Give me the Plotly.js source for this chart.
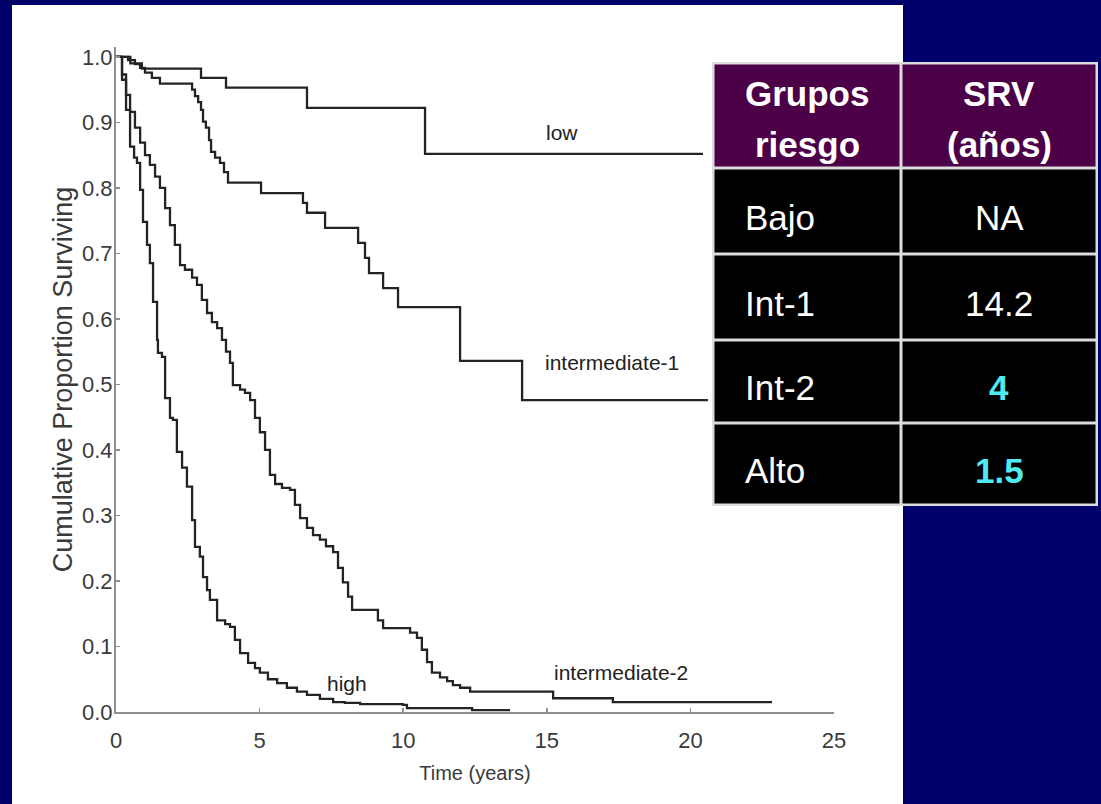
<!DOCTYPE html>
<html><head><meta charset="utf-8">
<script src="https://cdn.plot.ly/plotly-3.0.1.min.js"></script>
<style>html,body{margin:0;padding:0;background:#00006a;overflow:hidden}#chart{width:1101px;height:804px;}</style>
</head><body><div id="chart"></div>
<script>
// ---------- data ----------
const lowTime = [0, 0.5, 0.9, 2.96, 3.83, 6.65, 10.76, 20.44];
const lowSurv = [1.0, 0.99, 0.982, 0.968, 0.953, 0.922, 0.852, 0.852];

const int1Time = [0, 0.42, 0.66, 0.84, 1.01, 1.25, 1.53, 2.65, 2.75, 2.86, 2.96, 3.03, 3.13, 3.24, 3.31, 3.45, 3.62, 3.76, 3.90, 5.05, 6.51, 6.65, 7.28, 8.43, 8.67, 8.81, 9.30, 9.82, 11.98, 14.14, 20.61];
const int1Surv = [1.0, 0.995, 0.989, 0.983, 0.976, 0.968, 0.959, 0.950, 0.940, 0.931, 0.919, 0.901, 0.892, 0.873, 0.855, 0.846, 0.838, 0.824, 0.808, 0.792, 0.777, 0.762, 0.739, 0.716, 0.693, 0.670, 0.647, 0.618, 0.536, 0.476, 0.476];

const int2Time = [0, 0.21, 0.35, 0.49, 0.66, 0.84, 1.01, 1.18, 1.36, 1.53, 1.71, 1.88, 2.05, 2.23, 2.40, 2.65, 2.82, 2.99, 3.17, 3.34, 3.52, 3.69, 3.83, 3.97, 4.07, 4.32, 4.49, 4.67, 4.84, 5.01, 5.19, 5.36, 5.54, 5.78, 6.06, 6.23, 6.41, 6.65, 6.86, 7.10, 7.31, 7.56, 7.73, 7.90, 8.08, 8.22, 9.12, 9.30, 10.24, 10.48, 10.65, 10.83, 11.00, 11.28, 11.53, 11.73, 11.98, 12.33, 15.22, 17.30, 22.84];
const int2Surv = [1.0, 0.973, 0.942, 0.916, 0.892, 0.869, 0.850, 0.835, 0.817, 0.800, 0.769, 0.743, 0.713, 0.682, 0.675, 0.663, 0.652, 0.629, 0.609, 0.595, 0.586, 0.568, 0.550, 0.533, 0.499, 0.492, 0.487, 0.476, 0.449, 0.427, 0.400, 0.362, 0.348, 0.342, 0.339, 0.316, 0.296, 0.281, 0.270, 0.263, 0.253, 0.244, 0.220, 0.198, 0.176, 0.156, 0.140, 0.128, 0.121, 0.113, 0.095, 0.076, 0.060, 0.053, 0.047, 0.041, 0.037, 0.031, 0.021, 0.015, 0.015];

const highTime = [0, 0.21, 0.35, 0.49, 0.63, 0.73, 0.84, 0.94, 1.08, 1.18, 1.29, 1.43, 1.46, 1.60, 1.71, 1.88, 1.98, 2.12, 2.30, 2.47, 2.65, 2.75, 2.92, 3.03, 3.17, 3.27, 3.52, 3.80, 3.97, 4.14, 4.32, 4.60, 4.84, 5.01, 5.29, 5.61, 5.95, 6.30, 6.65, 7.10, 7.56, 7.97, 8.50, 9.99, 10.13, 12.40, 13.72];
const highSurv = [1.0, 0.965, 0.919, 0.863, 0.846, 0.838, 0.797, 0.748, 0.713, 0.685, 0.626, 0.568, 0.548, 0.542, 0.479, 0.449, 0.446, 0.397, 0.373, 0.344, 0.293, 0.252, 0.237, 0.206, 0.186, 0.171, 0.140, 0.134, 0.130, 0.110, 0.090, 0.075, 0.067, 0.060, 0.050, 0.044, 0.037, 0.031, 0.026, 0.020, 0.015, 0.014, 0.012, 0.011, 0.006, 0.003, 0.003];

const curveNames = ['low', 'intermediate-1', 'intermediate-2', 'high'];
const labelTime = [15.53, 17.27, 17.6, 8.04];
const labelSurv = [0.884, 0.533, 0.061, 0.044];

const xTicks = [0, 5, 10, 15, 20, 25];
const yTicks = [0, 0.1, 0.2, 0.3, 0.4, 0.5, 0.6, 0.7, 0.8, 0.9, 1.0];
const yTickLabels = ['0.0','0.1','0.2','0.3','0.4','0.5','0.6','0.7','0.8','0.9','1.0'];
const xTitle = 'Time (years)';
const yTitle = 'Cumulative Proportion Surviving';

// table
const tableHeader = [['Grupos', 'riesgo'], ['SRV', '(años)']];
const riskGroups = ['Bajo', 'Int-1', 'Int-2', 'Alto'];
const srvYears = ['NA', '14.2', '4', '1.5'];
const srvHighlight = [false, false, true, true];

// ---------- layout helpers ----------
const L = 116, R = 834, T = 47, B = 712;
const px2x = p => (p - L) / (R - L);
const py2y = p => (B - p) / (B - T);
const FONT = 'Liberation Sans, Arial, sans-serif';
const curveColor = '#232323';
const axisGrey = '#8f8f8f';
const textGrey = '#3a3a3a';

function km(name, t, s) {
  return {type: 'scatter', mode: 'lines', name: name, x: t, y: s,
          line: {shape: 'hv', color: curveColor, width: 2.3}, showlegend: false};
}
const traces = [
  km(curveNames[0], lowTime, lowSurv),
  km(curveNames[1], int1Time, int1Surv),
  km(curveNames[2], int2Time, int2Surv),
  km(curveNames[3], highTime, highSurv)
];

const shapes = [];
const annotations = [];

// white slide panel
shapes.push({type: 'rect', xref: 'paper', yref: 'paper', layer: 'below',
  x0: px2x(12), x1: px2x(903), y0: py2y(806), y1: py2y(5),
  fillcolor: '#ffffff', line: {width: 0}});

// curve labels
curveNames.forEach((n, i) => annotations.push({
  xref: 'x', yref: 'y', x: labelTime[i], y: labelSurv[i], text: n, showarrow: false,
  xanchor: 'center', yanchor: 'middle', font: {family: FONT, size: 21, color: '#222222'}
}));

// table geometry (pixels)
const colX = [713, 901, 1097];
const rowY = [63, 168, 254, 340, 423, 505];
shapes.push({type: 'rect', xref: 'paper', yref: 'paper', layer: 'above',
  x0: px2x(colX[0] - 1), x1: px2x(colX[2] + 1), y0: py2y(rowY[5] + 1), y1: py2y(rowY[0] - 1),
  fillcolor: '#dcdcdc', line: {width: 0}});
for (let r = 0; r < 5; r++) {
  for (let c = 0; c < 2; c++) {
    shapes.push({type: 'rect', xref: 'paper', yref: 'paper', layer: 'above',
      x0: px2x(colX[c] + 1.5), x1: px2x(colX[c + 1] - 1.5),
      y0: py2y(rowY[r + 1] - 1.5), y1: py2y(rowY[r] + 1.5),
      fillcolor: r === 0 ? '#4c0047' : '#000000', line: {width: 0}});
  }
}
// header text
const headerLineY = [93, 144];
tableHeader.forEach((lines, c) => {
  lines.forEach((txt, k) => annotations.push({
    xref: 'paper', yref: 'paper', x: px2x(c === 0 ? 807 : 999), y: py2y(headerLineY[k]),
    text: '<b>' + txt + '</b>', showarrow: false, xanchor: 'center', yanchor: 'middle',
    font: {family: FONT, size: 35, color: '#ffffff'}
  }));
});
// body text
riskGroups.forEach((g, i) => {
  const cy = (rowY[i + 1] + rowY[i + 2]) / 2 + 6;
  annotations.push({xref: 'paper', yref: 'paper', x: px2x(743), y: py2y(cy), text: g,
    showarrow: false, xanchor: 'left', yanchor: 'middle',
    font: {family: FONT, size: 35, color: '#ffffff'}});
  annotations.push({xref: 'paper', yref: 'paper', x: px2x(999), y: py2y(cy),
    text: srvHighlight[i] ? '<b>' + srvYears[i] + '</b>' : srvYears[i],
    showarrow: false, xanchor: 'center', yanchor: 'middle',
    font: {family: FONT, size: 35, color: srvHighlight[i] ? '#4fe9f2' : '#ffffff'}});
});

const layout = {
  width: 1101, height: 804,
  margin: {l: L, r: 1101 - R, t: T, b: 804 - B, pad: 0},
  paper_bgcolor: '#00006a', plot_bgcolor: 'rgba(0,0,0,0)',
  font: {family: FONT, color: textGrey},
  showlegend: false,
  xaxis: {range: [0, 25], tickvals: xTicks, showgrid: false, zeroline: false,
    showline: true, linecolor: axisGrey, linewidth: 2,
    ticks: 'inside', ticklen: 4, tickcolor: axisGrey, tickwidth: 1.5,
    ticklabelstandoff: 8,
    tickfont: {family: FONT, size: 22, color: textGrey},
    title: {text: xTitle, font: {family: FONT, size: 20, color: textGrey}, standoff: 14}},
  yaxis: {range: [0, 1.015], tickvals: yTicks, ticktext: yTickLabels, showgrid: false, zeroline: false,
    showline: true, linecolor: axisGrey, linewidth: 2,
    ticks: 'inside', ticklen: 4, tickcolor: axisGrey, tickwidth: 1.5,
    ticklabelstandoff: -3,
    tickfont: {family: FONT, size: 22, color: textGrey},
    title: {text: yTitle, font: {family: FONT, size: 27, color: textGrey}, standoff: 2}},
  shapes: shapes,
  annotations: annotations
};

Plotly.newPlot('chart', traces, layout, {displayModeBar: false, staticPlot: true});
</script>
</body></html>
